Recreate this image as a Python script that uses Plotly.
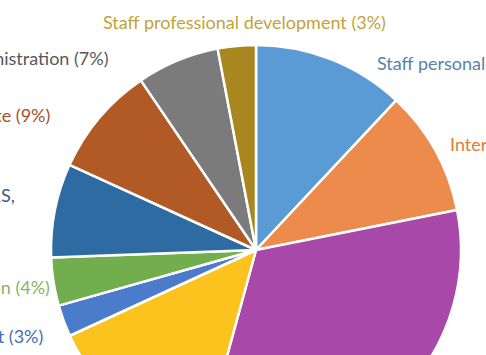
import plotly.graph_objects as go

# ---- data (clockwise from 12 o'clock) ----
categories = [
    "Staff personal",
    "Internal",
    "Other",
    "Facilities",
    "Equipment",
    "Communication",
    "Teaching & L&S",
    "Estate",
    "Administration",
    "Staff professional development",
]
values = [12.0, 9.9, 32.4, 13.9, 2.5, 3.8, 7.4, 8.7, 6.5, 3.0]
slice_colors = ["#5B9BD5", "#ED8B4C", "#A848A8", "#FCC31F", "#4A7CCB",
                "#72AE4E", "#2F6BA3", "#B15A25", "#7B7B7B", "#A9861F"]

label_texts = [
    "Staff personal (12%)",
    "Internal (10%)",
    "Administration (7%)",
    "Estate (9%)",
    "Teaching, L&S,<br>(7%)",
    "Communication (4%)",
    "Equipment (3%)",
    "Staff professional development (3%)",
]
label_colors = ["#5A7FA6", "#E07B39", "#595959", "#A0522D", "#2E5C8A",
                "#86B463", "#3F6FB5", "#C2A23A"]
# label anchor positions in page pixels (x, y, xanchor)
label_pos = [
    (375, 63, "left"),
    (448, 144, "left"),
    (110, 58, "right"),
    (52, 115, "right"),
    (17, 206, "right"),
    (52, 287, "right"),
    (45, 336, "right"),
    (244, 22, "center"),
]

# ---- layout geometry ----
W, H = 486, 480
L, T = 51, 45
R = 205
plot_w = plot_h = 2 * R
B = H - T - plot_h
Rm = W - L - plot_w

fig = go.Figure(go.Pie(
    labels=categories,
    values=values,
    sort=False,
    direction="clockwise",
    rotation=0,
    marker=dict(colors=slice_colors, line=dict(color="white", width=2.5)),
    textinfo="none",
    hoverinfo="label+percent",
    showlegend=False,
))

annotations = []
for txt, col, (px, py, anc) in zip(label_texts, label_colors, label_pos):
    annotations.append(dict(
        text=txt,
        xref="paper", yref="paper",
        x=(px - L) / plot_w,
        y=1 - (py - T) / plot_h,
        xanchor=anc, yanchor="middle",
        align="center",
        showarrow=False,
        font=dict(family="Lato", size=18, color=col),
    ))

fig.update_layout(
    width=W, height=H,
    margin=dict(l=L, r=Rm, t=T, b=B, pad=0),
    paper_bgcolor="white",
    plot_bgcolor="white",
    annotations=annotations,
)

fig.write_html("out.html",
               config={"displayModeBar": False},
               post_script="document.body.style.margin='0';document.body.style.overflow='hidden';")
